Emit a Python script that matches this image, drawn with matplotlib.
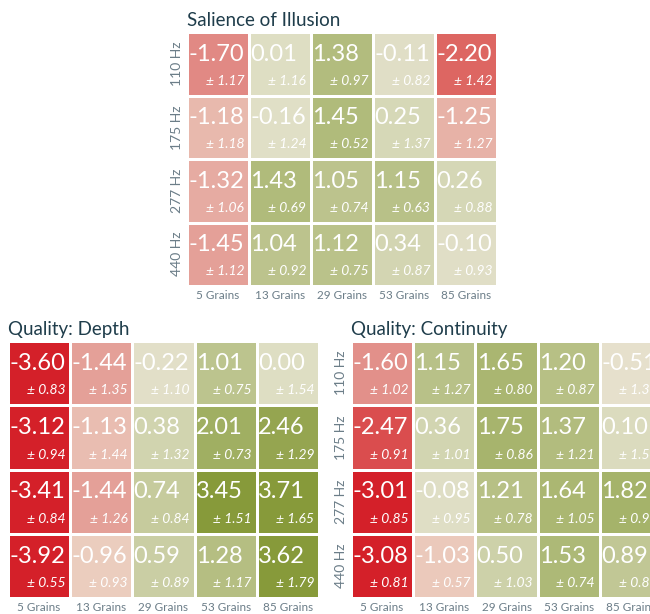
import matplotlib
matplotlib.use("Agg")
import matplotlib.pyplot as plt
import numpy as np
from matplotlib.colors import LinearSegmentedColormap, Normalize

plt.rcParams['font.family'] = ['Lato', 'DejaVu Sans']

GRAINS = ["5 Grains", "13 Grains", "29 Grains", "53 Grains", "85 Grains"]
FREQS = ["110 Hz", "175 Hz", "277 Hz", "440 Hz"]

# Salience of Illusion: mean and sd per (frequency, grains)
salience_mean = [[-1.70, 0.01, 1.38, -0.11, -2.20],
                 [-1.18, -0.16, 1.45, 0.25, -1.25],
                 [-1.32, 1.43, 1.05, 1.15, 0.26],
                 [-1.45, 1.04, 1.12, 0.34, -0.10]]
salience_sd = [[1.17, 1.16, 0.97, 0.82, 1.42],
               [1.18, 1.24, 0.52, 1.37, 1.27],
               [1.06, 0.69, 0.74, 0.63, 0.88],
               [1.12, 0.92, 0.75, 0.87, 0.93]]

# Quality: Depth
depth_mean = [[-3.60, -1.44, -0.22, 1.01, 0.00],
              [-3.12, -1.13, 0.38, 2.01, 2.46],
              [-3.41, -1.44, 0.74, 3.45, 3.71],
              [-3.92, -0.96, 0.59, 1.28, 3.62]]
depth_sd = [[0.83, 1.35, 1.10, 0.75, 1.54],
            [0.94, 1.44, 1.32, 0.73, 1.29],
            [0.84, 1.26, 0.84, 1.51, 1.65],
            [0.55, 0.93, 0.89, 1.17, 1.79]]

# Quality: Continuity
cont_mean = [[-1.60, 1.15, 1.65, 1.20, -0.51],
             [-2.47, 0.36, 1.75, 1.37, 0.10],
             [-3.01, -0.08, 1.21, 1.64, 1.82],
             [-3.08, -1.03, 0.50, 1.53, 0.89]]
cont_sd = [[1.02, 1.27, 0.80, 0.87, 1.38],
           [0.91, 1.01, 0.86, 1.21, 1.54],
           [0.85, 0.95, 0.78, 1.05, 0.92],
           [0.81, 0.57, 1.03, 0.74, 0.89]]

# diverging red / beige / olive map, range -3..3
VMIN, VMAX = -3.0, 3.0
nodes = [(-3.0, "#d42029"), (-2.2, "#dd6662"), (-1.6, "#e2918b"),
         (-1.0, "#ebcbbd"), (-0.5, "#e6e0cc"), (0.0, "#dedec4"),
         (1.0, "#bdc48f"), (2.0, "#a0af62"), (3.0, "#879a3a")]
cmap = LinearSegmentedColormap.from_list(
    "rg", [((v - VMIN) / (VMAX - VMIN), c) for v, c in nodes])
norm = Normalize(VMIN, VMAX)

TITLE_COLOR = "#1f3d4b"
TICK_COLOR = "#6b7d88"


def draw_panel(ax, title, mean, sd, ylabels):
    mean = np.array(mean)
    sd = np.array(sd)
    ax.pcolormesh(np.arange(mean.shape[1] + 1) - 0.5,
                  np.arange(mean.shape[0] + 1) - 0.5,
                  mean, cmap=cmap, norm=norm,
                  edgecolors="white", linewidth=1.8)
    ax.set_xlim(-0.5, mean.shape[1] - 0.5)
    ax.set_ylim(mean.shape[0] - 0.5, -0.5)
    for i in range(mean.shape[0]):
        for j in range(mean.shape[1]):
            ax.text(j - 0.48, i - 0.15, "%.2f" % mean[i, j],
                    ha="left", va="center", color="white",
                    fontsize=17)
            ax.text(j + 0.42, i + 0.27, "\u00b1 %.2f" % sd[i, j],
                    ha="right", va="center", color="white",
                    fontsize=10, style="italic")
    ax.set_xticks(range(mean.shape[1]))
    ax.set_xticklabels(GRAINS, fontsize=8.5, color=TICK_COLOR)
    if ylabels:
        ax.set_yticks(range(mean.shape[0]))
        ax.set_yticklabels(FREQS, rotation=90, va="center",
                           fontsize=10, color=TICK_COLOR)
    else:
        ax.set_yticks([])
    ax.tick_params(length=0, pad=3)
    for s in ax.spines.values():
        s.set_visible(False)
    ax.set_title(title, loc="left", fontsize=13.5, color=TITLE_COLOR,
                 pad=4, x=0.0)


fig = plt.figure(figsize=(6.5, 6.14), dpi=100)
ax_top = fig.add_axes([187 / 650, 1 - 286 / 614, 310 / 650, 254 / 614])
ax_dep = fig.add_axes([8 / 650, 1 - 598 / 614, 311 / 650, 257 / 614])
# the right panel runs past the figure edge, as in the original
ax_con = fig.add_axes([351 / 650, 1 - 598 / 614, 311 / 650, 257 / 614])

draw_panel(ax_top, "Salience of Illusion", salience_mean, salience_sd, True)
draw_panel(ax_dep, "Quality: Depth", depth_mean, depth_sd, False)
draw_panel(ax_con, "Quality: Continuity", cont_mean, cont_sd, True)

fig.savefig("out.png", dpi=100)
